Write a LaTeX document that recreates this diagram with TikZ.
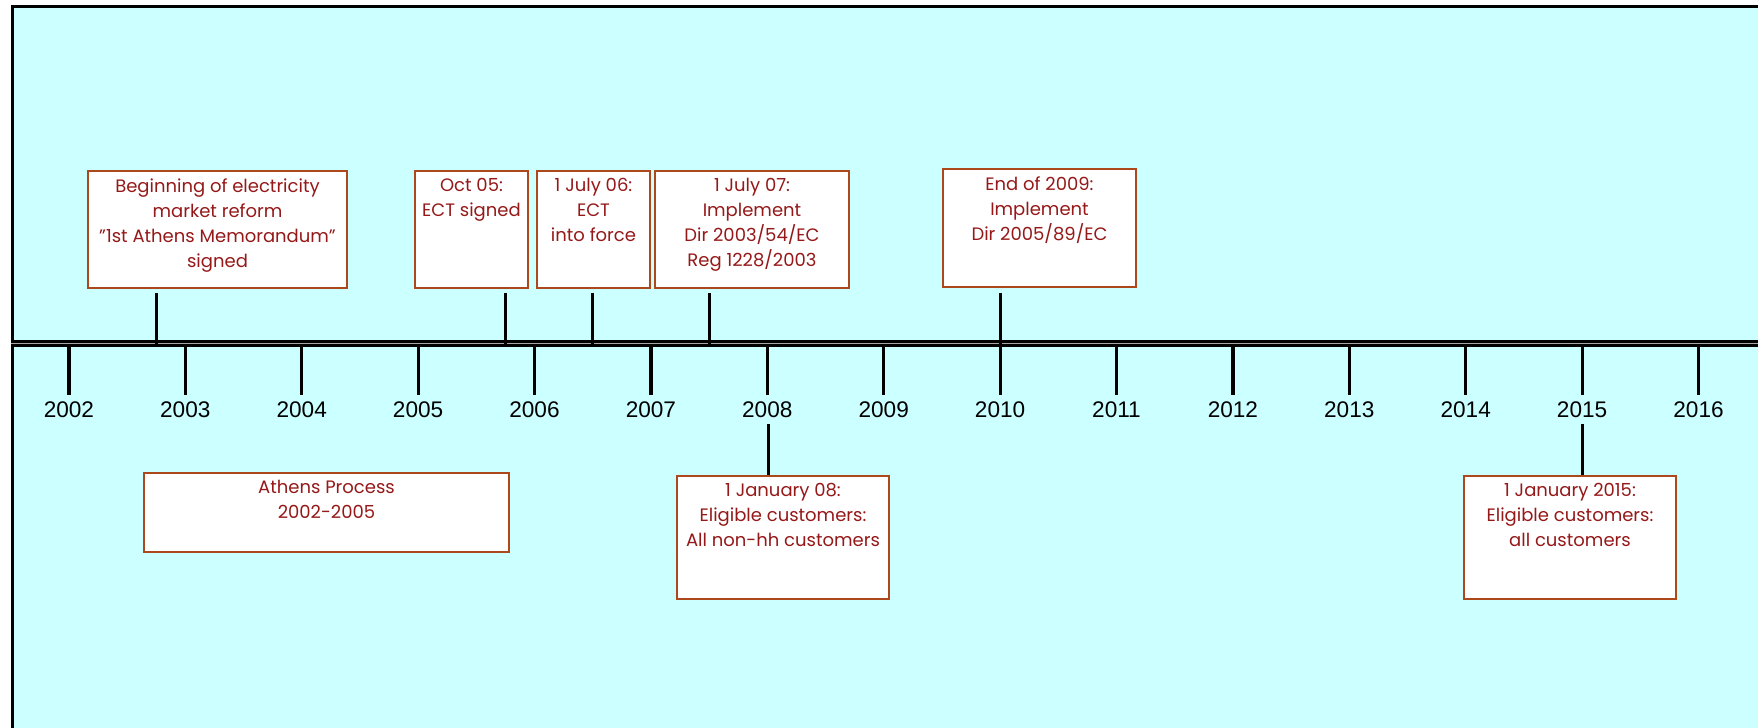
\documentclass[tikz,border=0pt]{standalone}
\usepackage{fontspec}
\setmainfont{Poppins}
\newfontfamily\yearfont{Liberation Sans}
\usetikzlibrary{fit}
\definecolor{panel}{RGB}{204,255,255}
\definecolor{evred}{RGB}{150,25,25}
\definecolor{evline}{RGB}{172,72,28}
\newcommand{\dq}{\char34\relax}

\tikzset{
  evbox/.style={draw=evline, line width=1pt, fill=white, inner sep=0pt},
  evtext/.style={anchor=north, text=evred, align=center, inner sep=0pt, yshift=-4pt,
    font=\fontsize{9}{12.5}\selectfont},
  tick/.style={line width=1.6pt},
  year/.style={font=\yearfont\fontsize{11.3}{13}\selectfont, inner sep=1pt},
}

\begin{document}
\begin{tikzpicture}[x=0.5pt,y=-0.5pt]
  \useasboundingbox (0,0) rectangle (1758,728);
  \fill[white] (0,0) rectangle (1758,728);
  \fill[panel] (11,6) rectangle (1758,728);
  \draw[line width=1.5pt] (12.5,728) -- (12.5,6.5) -- (1758,6.5);

  % time axis
  \coordinate (axl) at (11,343.5);
  \coordinate (axr) at (1758,343.5);
  \draw[line width=1.5pt, double=gray!70, double distance=0.5pt] (axl) -- (axr);

  % years
  \foreach \yr [count=\i from 0] in {2002,...,2016} {
    \coordinate (y\yr) at (68.9+116.4*\i,347);
    \draw[tick] (y\yr) -- ++(0,48);
    \node[year] (l\yr) at (68.9+116.4*\i,410) {\yr};
  }

  % events above the axis
  \node[evbox, fit={(88,171) (347,288)}] (reform) {};
  \node[evtext] at (reform.north) {Beginning of electricity\\market reform\\\dq1st Athens Memorandum\dq\\signed};
  \node[evbox, fit={(415,171) (528,288)}] (oct05) {};
  \node[evtext] at (oct05.north) {Oct 05:\\ECT signed};
  \node[evbox, fit={(537,171) (650,288)}] (jul06) {};
  \node[evtext] at (jul06.north) {1 July 06:\\ECT\\into force};
  \node[evbox, fit={(655,171) (849,288)}] (jul07) {};
  \node[evtext] at (jul07.north) {1 July 07:\\Implement\\Dir 2003/54/EC\\Reg 1228/2003};
  \node[evbox, fit={(943,169) (1136,287)}] (end09) {};
  \node[evtext] at (end09.north) {End of 2009:\\Implement\\Dir 2005/89/EC};

  \coordinate (e1) at (156.2,293);
  \coordinate (e2) at (505.4,293);
  \coordinate (e3) at (592.7,293);
  \coordinate (e4) at (709.1,293);
  \coordinate (e5) at (1000.1,293);
  \foreach \e in {e1,e2,e3,e4,e5}
    \draw[tick] (\e) -- (\e |- axl);

  % events below the axis
  \node[evbox, fit={(144,473) (509,552)}] (athens) {};
  \node[evtext] at (athens.north) {Athens Process\\2002-2005};
  \node[evbox, fit={(677,476) (889,599)}] (jan08) {};
  \node[evtext] at (jan08.north) {1 January 08:\\Eligible customers:\\All non-hh customers};
  \node[evbox, fit={(1464,476) (1676,599)}] (jan15) {};
  \node[evtext] at (jan15.north) {1 January 2015:\\Eligible customers:\\all customers};

  \coordinate (f1) at (768.5,424);
  \coordinate (f2) at (1582.5,424);
  \draw[tick] (f1) -- (f1 |- jan08.north);
  \draw[tick] (f2) -- (f2 |- jan15.north);
\end{tikzpicture}
\end{document}
